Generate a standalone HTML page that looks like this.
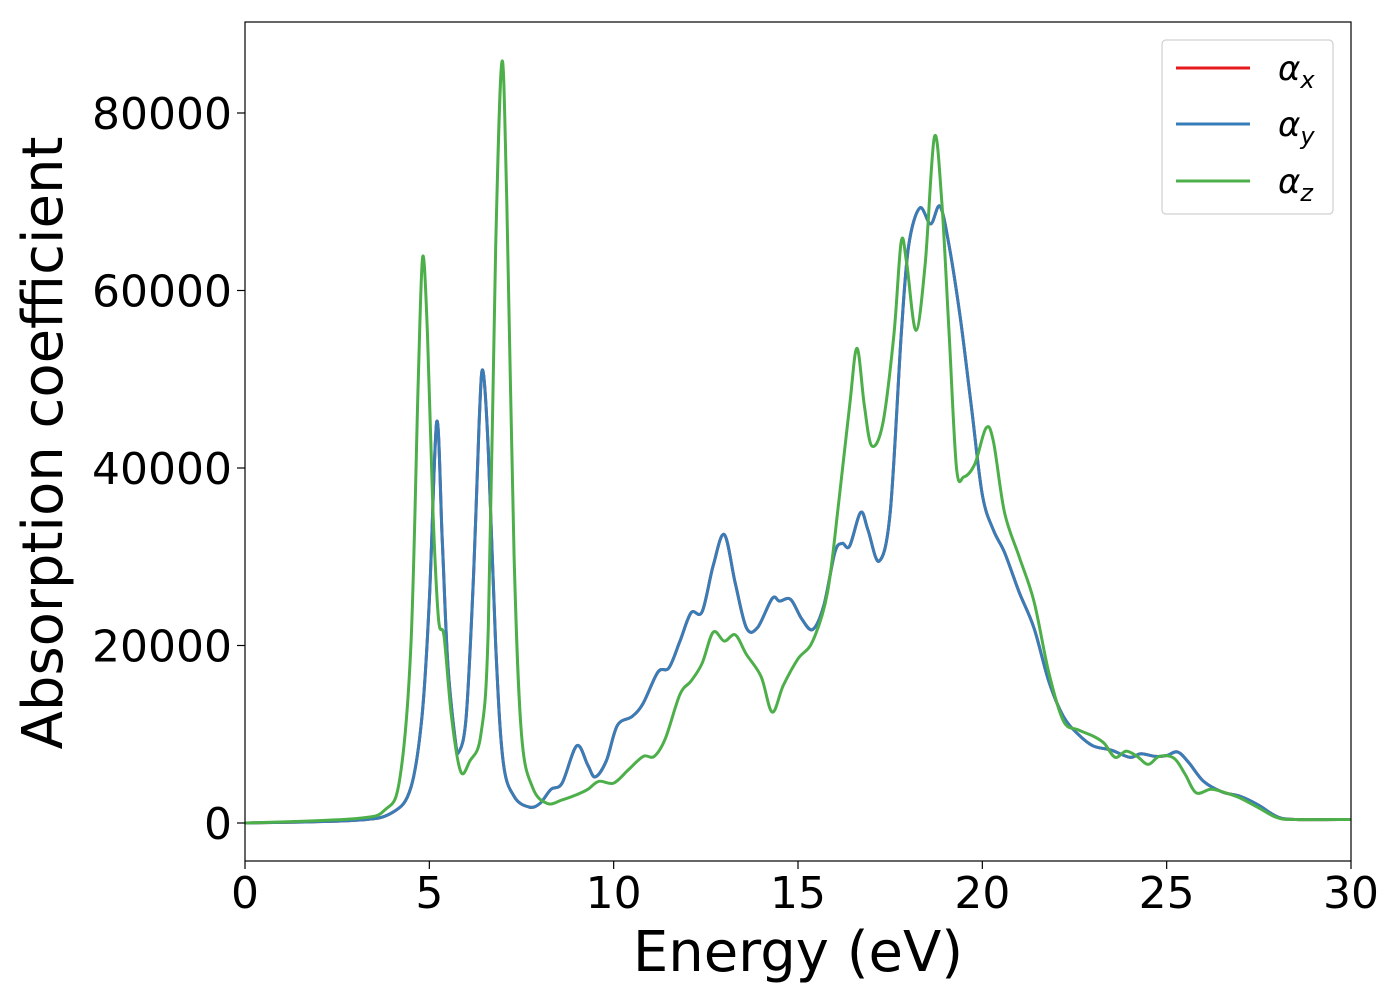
<!DOCTYPE html>
<html><head><meta charset="utf-8"><style>
html,body{margin:0;padding:0;background:#fff}
svg{display:block;font-family:"DejaVu Sans","Liberation Sans",sans-serif}
</style></head><body>
<svg id="chart" width="1400" height="1000" viewBox="0 0 1400 1000" xmlns="http://www.w3.org/2000/svg">
<rect x="0" y="0" width="1400" height="1000" fill="#fff"/>
<g id="plot"></g>
<g id="axes"></g>
<text x="798" y="971" font-size="56" text-anchor="middle">Energy (eV)</text>
<text transform="translate(62,443) rotate(-90)" font-size="56" text-anchor="middle">Absorption coefficient</text>
<g>
<rect x="1162" y="40" width="171" height="174" rx="4" fill="#fff" stroke="#ccc" stroke-width="1.2" opacity="0.9"/>
<line x1="1176" y1="68" x2="1250" y2="68" stroke="#e41a1c" stroke-width="3"/>
<line x1="1176" y1="124" x2="1250" y2="124" stroke="#377eb8" stroke-width="3"/>
<line x1="1176" y1="181" x2="1250" y2="181" stroke="#4daf4a" stroke-width="3"/>
<text x="1278" y="80" font-size="34" font-style="italic">α<tspan font-size="24" dy="8">x</tspan></text>
<text x="1278" y="136" font-size="34" font-style="italic">α<tspan font-size="24" dy="8">y</tspan></text>
<text x="1278" y="193" font-size="34" font-style="italic">α<tspan font-size="24" dy="8">z</tspan></text>
</g>
</svg>
<script>
const xTicks=[0,5,10,15,20,25,30];
const yTicks=[0,20000,40000,60000,80000];
const energyXY=[0,3,4,4.5,4.8,5.0,5.2,5.35,5.5,5.7,5.8,6.0,6.2,6.35,6.45,6.6,6.8,7.0,7.3,7.7,8.0,8.3,8.6,9.0,9.3,9.5,9.8,10.1,10.5,10.8,11.2,11.5,11.8,12.1,12.4,12.7,13.0,13.3,13.6,13.9,14.3,14.5,14.8,15.1,15.4,15.7,16.0,16.2,16.4,16.7,16.9,17.2,17.5,17.8,18.0,18.3,18.6,18.85,19.1,19.4,19.7,20.0,20.3,20.6,21.0,21.4,21.8,22.2,22.6,23.0,23.5,24.0,24.3,24.7,25.0,25.3,25.6,26.0,26.5,27.0,27.5,28.0,28.5,30];
const alphaX=[0,300,1200,4000,12000,25000,45200,32000,18000,9500,8000,12000,28000,45000,51000,42000,20000,7000,3000,1800,2200,3800,4500,8700,6500,5200,7000,11000,12000,13500,17000,17500,20500,23700,23800,29000,32500,27000,22000,22000,25300,25000,25200,23000,21800,24500,30500,31500,31200,35000,33000,29500,35000,55000,65000,69300,67500,69500,65000,57000,47000,37000,33000,30500,26000,22000,16000,12000,10000,8700,8200,7400,7800,7500,7600,8000,6800,4700,3500,3000,2000,700,400,400];
const alphaY=alphaX.slice();
const energyZ=[0,3,3.8,4.2,4.5,4.7,4.82,4.95,5.1,5.25,5.4,5.6,5.85,6.1,6.4,6.6,6.8,6.97,7.1,7.3,7.5,7.8,8.2,8.6,9.0,9.3,9.6,10.0,10.4,10.8,11.1,11.4,11.8,12.1,12.4,12.7,13.0,13.3,13.6,14.0,14.3,14.6,15.0,15.4,15.8,16.1,16.4,16.6,16.8,17.0,17.3,17.6,17.8,17.95,18.2,18.45,18.7,18.9,19.1,19.3,19.5,19.8,20.1,20.3,20.6,21.0,21.4,21.8,22.2,22.6,23.0,23.3,23.6,23.9,24.2,24.5,24.8,25.2,25.5,25.8,26.2,26.6,27.0,27.5,28.0,28.5,30];
const alphaZ=[0,500,1500,5000,20000,50000,63800,55000,35000,23000,21000,12000,5800,7000,10000,22000,65000,85800,70000,30000,10000,4000,2200,2600,3200,3800,4700,4500,6000,7500,7500,9500,14500,16000,18000,21500,20500,21200,19000,16500,12500,15500,18500,20500,26000,36000,47000,53500,47000,42500,45000,55000,65500,63000,55500,63000,77300,70000,55000,40000,39000,40500,44500,43000,35000,30000,25000,17000,11500,10500,9800,9000,7400,8100,7500,6600,7500,7300,5500,3400,3800,3400,2800,1700,600,400,400];

const X0=245,X1=1351,Y0=22,Y1=861;
const sx=v=>X0+(v-0)/(30-0)*(X1-X0);
const sy=v=>823-v*(177.5/20000);
const NS="http://www.w3.org/2000/svg";
function mk(tag,attrs,parent){const e=document.createElementNS(NS,tag);for(const k in attrs)e.setAttribute(k,attrs[k]);parent.appendChild(e);return e;}
const plot=document.getElementById('plot'),axes=document.getElementById('axes');
function pathFor(xs,ys){
  const p=xs.map((x,i)=>[sx(x),sy(ys[i])]);
  let d='M'+p[0][0].toFixed(1)+','+p[0][1].toFixed(1);
  for(let i=0;i<p.length-1;i++){
    const a=p[Math.max(0,i-1)],b=p[i],c=p[i+1],e=p[Math.min(p.length-1,i+2)];
    const c1=[b[0]+(c[0]-a[0])/6,b[1]+(c[1]-a[1])/6],c2=[c[0]-(e[0]-b[0])/6,c[1]-(e[1]-b[1])/6];
    d+='C'+c1[0].toFixed(1)+','+c1[1].toFixed(1)+' '+c2[0].toFixed(1)+','+c2[1].toFixed(1)+' '+c[0].toFixed(1)+','+c[1].toFixed(1);
  }
  return d;
}
const series=[[energyXY,alphaX,'#e41a1c','series-alpha-x'],[energyXY,alphaY,'#377eb8','series-alpha-y'],[energyZ,alphaZ,'#4daf4a','series-alpha-z']];
series.forEach(s=>{
  const el=mk('path',{d:pathFor(s[0],s[1]),fill:'none',stroke:s[2],'stroke-width':3,'stroke-linejoin':'round'},plot);
  
  
});
const frame=mk('rect',{x:X0,y:Y0,width:X1-X0,height:Y1-Y0,fill:'none',stroke:'#000','stroke-width':1.2},axes);


xTicks.forEach(t=>{
  const x=sx(t);
  const tk=mk('line',{x1:x,y1:Y1,x2:x,y2:Y1+8,stroke:'#000','stroke-width':1.2},axes);
  
  
  const lb=mk('text',{x:x,y:908,'font-size':44,'text-anchor':'middle'},axes);
  lb.textContent=t;
  
  
});
yTicks.forEach(t=>{
  const y=sy(t);
  const tk=mk('line',{x1:X0-8,y1:y,x2:X0,y2:y,stroke:'#000','stroke-width':1.2},axes);
  
  
  const lb=mk('text',{x:X0-13,y:y+16,'font-size':44,'text-anchor':'end'},axes);
  lb.textContent=t;
  
  
});
</script>
</body></html>
